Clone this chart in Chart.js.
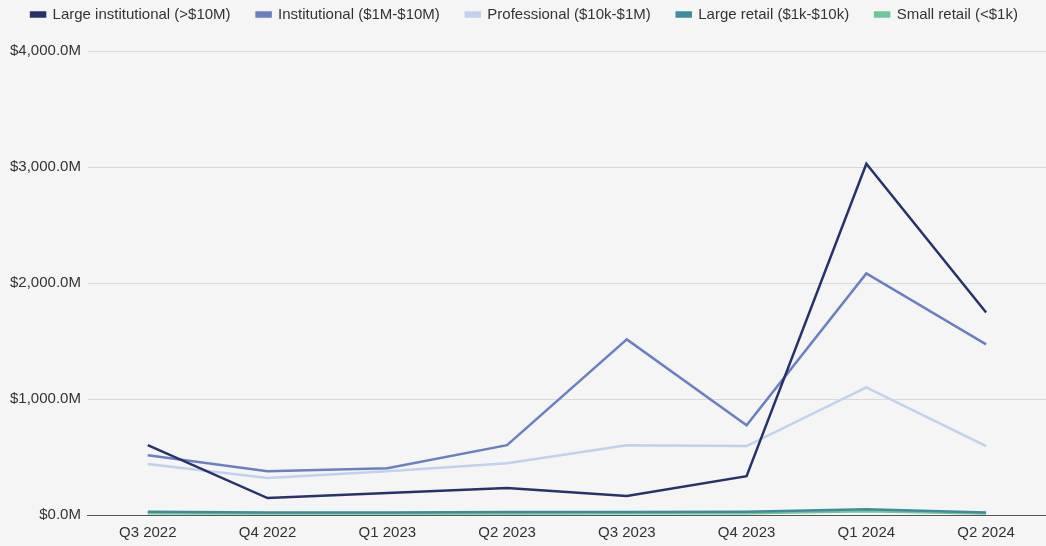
<!DOCTYPE html>
<html>
<head>
<meta charset="utf-8">
<script src="https://cdn.jsdelivr.net/npm/chart.js@4"></script>
<style>
  html, body { margin: 0; padding: 0; background: #f5f5f5; }
  #wrap { width: 1046px; height: 546px; }
</style>
</head>
<body>
<div id="wrap"><canvas id="chart"></canvas></div>
<script>
const quarters = ['Q3 2022', 'Q4 2022', 'Q1 2023', 'Q2 2023', 'Q3 2023', 'Q4 2023', 'Q1 2024', 'Q2 2024']
const largeInstitutional = [602, 146, 189, 232, 163, 335, 3028, 1746]
const institutional = [516, 378, 404, 602, 1514, 774, 2082, 1471]
const professional = [439, 318, 378, 447, 602, 594, 1101, 594]
const largeRetail = [28, 22, 22, 25, 26, 28, 50, 22]
const smallRetail = [16, 12, 13, 14, 15, 16, 32, 12]

const mk = (label, data, color) => ({
  label: label,
  data: data,
  borderColor: color,
  backgroundColor: color,
  borderWidth: 2.5,
  pointRadius: 0,
  tension: 0,
})

// extra room under the legend
const legendGap = {
  id: 'legendGap',
  beforeInit(chart) {
    const fit = chart.legend.fit
    chart.legend.fit = function() {
      fit.bind(chart.legend)()
      this.height += 19
    }
  }
}

Chart.defaults.font.family = '"Liberation Sans", Arial, sans-serif'
Chart.defaults.color = '#333'

new Chart(document.getElementById('chart'), {
  type: 'line',
  data: {
    labels: quarters,
    datasets: [
      mk('Large institutional (>$10M)', largeInstitutional, '#27326b'),
      mk('Institutional ($1M-$10M)', institutional, '#6a80c0'),
      mk('Professional ($10k-$1M)', professional, '#c2d1ee'),
      mk('Large retail ($1k-$10k)', largeRetail, '#3f8d9c'),
      mk('Small retail (<$1k)', smallRetail, '#6fc69c'),
    ],
  },
  plugins: [legendGap],
  options: {
    responsive: true,
    maintainAspectRatio: false,
    animation: false,
    layout: { padding: { left: 3, right: 0, top: -19, bottom: 3 } },
    plugins: {
      legend: {
        position: 'top',
        labels: { boxWidth: 14, boxHeight: 4, padding: 26, font: { size: 15 }, color: '#333' },
      },
      tooltip: { enabled: false },
    },
    scales: {
      x: {
        offset: true,
        grid: { display: false },
        border: { color: '#555', width: 1 },
        ticks: { font: { size: 15 }, color: '#333', padding: 1 },
      },
      y: {
        min: 0,
        max: 4000,
        ticks: {
          stepSize: 1000,
          font: { size: 15 },
          color: '#333',
          padding: 7,
          callback: (v) => '$' + v.toLocaleString('en-US', { minimumFractionDigits: 1, maximumFractionDigits: 1 }) + 'M',
        },
        grid: { color: '#d9d9d9', drawTicks: false },
        border: { display: false },
      },
    },
  },
})
</script>
</body>
</html>
